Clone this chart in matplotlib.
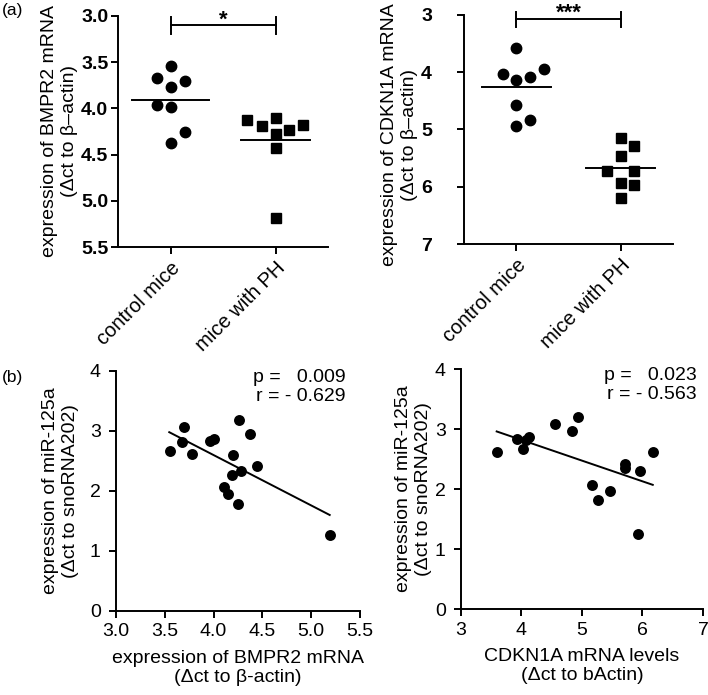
import numpy as np
import matplotlib
matplotlib.use("Agg")
from matplotlib import pyplot as plt
from matplotlib.ticker import FormatStrFormatter

plt.rcParams["font.family"] = ["Liberation Sans", "DejaVu Sans"]

# Panel (a) left: BMPR2 expression per group
groups = ["control mice", "mice with PH"]
bmpr2_ctrl = [3.54, 3.67, 3.70, 3.77, 3.96, 3.99, 4.26, 4.37]
bmpr2_ctrl_dx = [0.0, -0.13, 0.14, 0.0, -0.13, 0.0, 0.14, 0.0]
bmpr2_ph = [4.13, 4.19, 4.105, 4.235, 4.18, 4.275, 4.43, 5.19]
bmpr2_ph_dx = [-0.27, -0.13, 0.0, 0.125, 0.26, 0.0, 0.0, 0.0]

# Panel (a) right: CDKN1A expression per group
cdkn_ctrl = [3.59, 4.03, 4.14, 4.08, 3.94, 4.58, 4.84, 4.95]
cdkn_ctrl_dx = [0.0, -0.13, 0.0, 0.13, 0.27, 0.0, 0.13, 0.0]
cdkn_ph = [5.15, 5.29, 5.47, 5.72, 5.72, 5.94, 5.97, 6.20]
cdkn_ph_dx = [0.0, 0.13, 0.0, -0.13, 0.13, 0.0, 0.13, 0.0]

# Panel (b) left: miR-125a vs BMPR2
b1_x = [3.55, 3.68, 3.70, 3.78, 3.96, 4.00, 4.20, 4.19, 4.11, 4.15, 4.25, 4.26, 4.37, 4.28, 4.44, 5.19]
b1_y = [2.66, 2.81, 3.07, 2.62, 2.83, 2.86, 2.60, 2.27, 2.06, 1.95, 1.79, 3.19, 2.95, 2.33, 2.41, 1.26]
b1_fit_x = [3.546, 5.19]
b1_fit_y = [2.98, 1.60]

# Panel (b) right: miR-125a vs CDKN1A
b2_x = [3.59, 3.93, 4.02, 4.08, 4.13, 4.56, 4.84, 4.94, 5.16, 5.27, 5.46, 5.71, 5.71, 5.96, 6.18, 5.92]
b2_y = [2.62, 2.83, 2.67, 2.82, 2.87, 3.08, 2.96, 3.20, 2.06, 1.81, 1.96, 2.42, 2.35, 2.30, 2.61, 1.25]
b2_fit_x = [3.59, 6.17]
b2_fit_y = [2.96, 2.07]

FS = 14
LW = 1.4


def style_axes(ax):
    for side in ["top", "right"]:
        ax.spines[side].set_visible(False)
    for side in ["left", "bottom"]:
        ax.spines[side].set_linewidth(LW)
    ax.tick_params(direction="out", length=5, width=LW)


def dot_panel(ax, ctrl, ctrl_dx, ph, ph_dx, ylim, yticks, yticklabels, ylabel,
              star, br_y, br_lo, br_hi, half_ctrl, half_ph, ypad):
    ax.plot(np.array(ctrl_dx) + 0, ctrl, "o", color="black", markersize=7.5, clip_on=False)
    ax.plot(np.array(ph_dx) + 1, ph, "s", color="black", markersize=7, clip_on=False)
    ax.plot([-half_ctrl, half_ctrl], [np.mean(ctrl)] * 2, color="black", lw=LW)
    ax.plot([1 - half_ph, 1 + half_ph], [np.mean(ph)] * 2, color="black", lw=LW)
    ax.set_xlim(-0.5, 1.5)
    ax.set_ylim(*ylim)
    ax.set_yticks(yticks)
    ax.set_yticklabels(yticklabels, fontsize=14, fontweight="bold")
    ax.set_xticks([0, 1])
    ax.set_xticklabels(groups, rotation=45, ha="right", rotation_mode="anchor", fontsize=14.5)
    ax.set_ylabel(ylabel, fontsize=FS, linespacing=1.25, labelpad=2)
    ax.plot([0, 1], [br_y, br_y], color="black", lw=LW, clip_on=False)
    ax.plot([0, 0], [br_lo, br_hi], color="black", lw=LW, clip_on=False)
    ax.plot([1, 1], [br_lo, br_hi], color="black", lw=LW, clip_on=False)
    ax.text(0.5, br_y, star, ha="center", va="baseline", fontsize=16, fontweight="bold")
    style_axes(ax)
    ax.tick_params(axis="y", pad=ypad)
    ax.tick_params(axis="x", pad=3)


def scatter_panel(ax, xs, ys, fit_x, fit_y, xlim, xticks, xlabel, stats, stats_x, ypad):
    ax.scatter(xs, ys, s=62, color="black", clip_on=False, zorder=3, linewidths=0)
    ax.plot(fit_x, fit_y, color="black", lw=LW)
    ax.set_xlim(*xlim)
    ax.set_ylim(0, 4)
    ax.set_xticks(xticks)
    ax.set_yticks([0, 1, 2, 3, 4])
    ax.tick_params(labelsize=14)
    ax.set_xlabel(xlabel, fontsize=FS, linespacing=1.15, labelpad=7)
    ax.set_ylabel("expression of miR-125a\n(\u0394ct to snoRNA202)", fontsize=FS,
                  linespacing=1.2, labelpad=ypad)
    ax.text(stats_x, 1.01, stats, transform=ax.transAxes,
            ha="right", va="top", fontsize=FS, linespacing=1.2)
    style_axes(ax)
    ax.tick_params(axis="y", pad=6)
    ax.tick_params(axis="x", pad=4)


fig = plt.figure(figsize=(7.08, 6.95), dpi=100)

ax1 = fig.add_axes([0.1667, 0.6446, 0.2966, 0.3324])
dot_panel(ax1, bmpr2_ctrl, bmpr2_ctrl_dx, bmpr2_ph, bmpr2_ph_dx,
          (5.5, 3.0), [3.0, 3.5, 4.0, 4.5, 5.0, 5.5],
          ["3.0", "3.5", "4.0", "4.5", "5.0", "5.5"],
          "expression of BMPR2 mRNA\n(\u0394ct to \u03b2\u2013actin)",
          "*", 3.10, 3.01, 3.19, 0.37, 0.33, ypad=2)

ax2 = fig.add_axes([0.6554, 0.6489, 0.2952, 0.330])
dot_panel(ax2, cdkn_ctrl, cdkn_ctrl_dx, cdkn_ph, cdkn_ph_dx,
          (7, 3), [3, 4, 5, 6, 7], ["3", "4", "5", "6", "7"],
          "expression of CDKN1A mRNA\n(\u0394ct to \u03b2\u2013actin)",
          "***", 3.075, 2.95, 3.21, 0.33, 0.33, ypad=18)
ax2.yaxis.label.set_y(0.475)

ax3 = fig.add_axes([0.1638, 0.1209, 0.3446, 0.3453])
scatter_panel(ax3, b1_x, b1_y, b1_fit_x, b1_fit_y, (3.0, 5.5),
              [3.0, 3.5, 4.0, 4.5, 5.0, 5.5],
              "expression of BMPR2 mRNA\n(\u0394ct to \u03b2-actin)",
              "p =   0.009\nr = - 0.629", 0.94, ypad=8)
ax3.xaxis.set_major_formatter(FormatStrFormatter("%.1f"))

ax4 = fig.add_axes([0.6511, 0.1237, 0.3418, 0.3453])
scatter_panel(ax4, b2_x, b2_y, b2_fit_x, b2_fit_y, (3, 7), [3, 4, 5, 6, 7],
              "CDKN1A mRNA levels\n(\u0394ct to bActin)",
              "p =   0.023\nr = - 0.563", 0.975, ypad=2)

fig.text(0.002, 0.996, "(a)", ha="left", va="top", fontsize=12.5)
fig.text(0.002, 0.468, "(b)", ha="left", va="top", fontsize=12.5)

fig.savefig("out.png", dpi=100)
